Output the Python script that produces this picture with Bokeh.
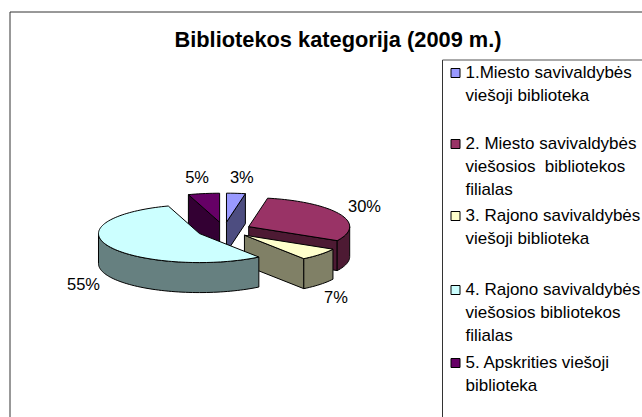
import math
from bokeh.core.properties import value
from bokeh.embed import file_html
from bokeh.models import Range1d
from bokeh.plotting import figure
from bokeh.resources import INLINE

title = "Bibliotekos kategorija (2009 m.)"
shares = [3, 30, 7, 55, 5]
top_colors = ["#9999FF", "#993366", "#FFFFCC", "#CCFFFF", "#660066"]
side_colors = ["#4D4D80", "#4D1A33", "#808066", "#668080", "#330033"]
legend_lines = [
    ["1.Miesto savivaldybės", "viešoji biblioteka"],
    ["2. Miesto savivaldybės", "viešosios\u00a0 bibliotekos", "filialas"],
    ["3. Rajono savivaldybės", "viešoji biblioteka"],
    ["4. Rajono savivaldybės", "viešosios bibliotekos", "filialas"],
    ["5. Apskrities viešoji", "biblioteka"],
]

W, H = 642, 417
FONT = value("Liberation Sans")
p = figure(width=W, height=H, x_range=Range1d(0, W), y_range=Range1d(H, 0),
           output_backend="svg", toolbar_location=None, min_border=0,
           outline_line_color=None, background_fill_color="white", border_fill_color="white")
p.xaxis.visible = False
p.yaxis.visible = False
p.grid.visible = False

# chart frame and legend frame
p.segment([9.5, 9.5, 442], [417, 11.5, 59.5], [9.5, 642, 442], [11.5, 11.5, 417], line_color="#333333", line_width=1)
p.segment([442], [59.5], [642], [59.5], line_color="#555555", line_width=1)

p.text([337.5], [39], text=[title], text_font=FONT, text_font_size="21.8px", text_font_style="bold",
       text_align="center", text_baseline="middle", text_color="black")

# 3D pie projection
CX, CY, RX, RY, EXPLODE, DEPTH = 223.4, 229.5, 101, 29, 27.4, 30


def pt(ax, ay, deg, rx=RX, ry=RY):
    a = math.radians(deg)
    return ax + rx * math.sin(a), ay - ry * math.cos(a)


def arc(a1, a2):
    n = max(2, int(abs(a2 - a1) / 2) + 1)
    return [a1 + (a2 - a1) * i / (n - 1) for i in range(n)]


starts, acc = [], 0
for s in shares:
    starts.append(acc * 3.6)
    acc += s

label_shift = [(3, 0), (-3, -2), (-7, 2), (1, 0), (-2, -1)]
for i in [4, 0, 1, 2, 3]:
    a1, a2 = starts[i], starts[i] + shares[i] * 3.6
    mid = (a1 + a2) / 2
    ax, ay = pt(CX, CY, mid, EXPLODE, EXPLODE * RY / RX)
    for ang, seen in ((a1, 180 <= a1 < 360), (a2, 0 < a2 < 180)):
        if seen:
            ex, ey = pt(ax, ay, ang)
            p.patch([ax, ex, ex, ax], [ay, ey, ey + DEPTH, ay + DEPTH],
                    fill_color=side_colors[i], line_color="black", line_width=1)
    lo, hi = max(a1, 90), min(a2, 270)
    if lo < hi:
        rim = [pt(ax, ay, d) for d in arc(lo, hi)]
        xs = [q[0] for q in rim] + [q[0] for q in reversed(rim)]
        ys = [q[1] for q in rim] + [q[1] + DEPTH for q in reversed(rim)]
        p.patch(xs, ys, fill_color=side_colors[i], line_color="black", line_width=1)
    rim = [pt(ax, ay, d) for d in arc(a1, a2)]
    p.patch([ax] + [q[0] for q in rim], [ay] + [q[1] for q in rim],
            fill_color=top_colors[i], line_color="black", line_width=1)
    lx, ly = pt(ax, ay, mid, RX * 1.3, RY * 1.55)
    if math.cos(math.radians(mid)) < 0:
        ly += DEPTH
    p.text([lx + label_shift[i][0]], [ly + label_shift[i][1]], text=[f"{shares[i]}%"], text_font=FONT,
           text_font_size="16.5px", text_align="center", text_baseline="middle", text_color="black")

line_step = 23.2
entry_tops = [72, 143, 215, 289, 362]
for color, lines, y0 in zip(top_colors, legend_lines, entry_tops):
    p.rect([455], [y0 + 0.5], width=9, height=9, fill_color=color, line_color="black", line_width=1)
    ys = [y0 + line_step * k for k in range(len(lines))]
    p.text([465] * len(lines), ys, text=lines, text_font=FONT, text_font_size="17px",
           text_align="left", text_baseline="middle", text_color="black")

open("out.html", "w").write(file_html(p, INLINE))
